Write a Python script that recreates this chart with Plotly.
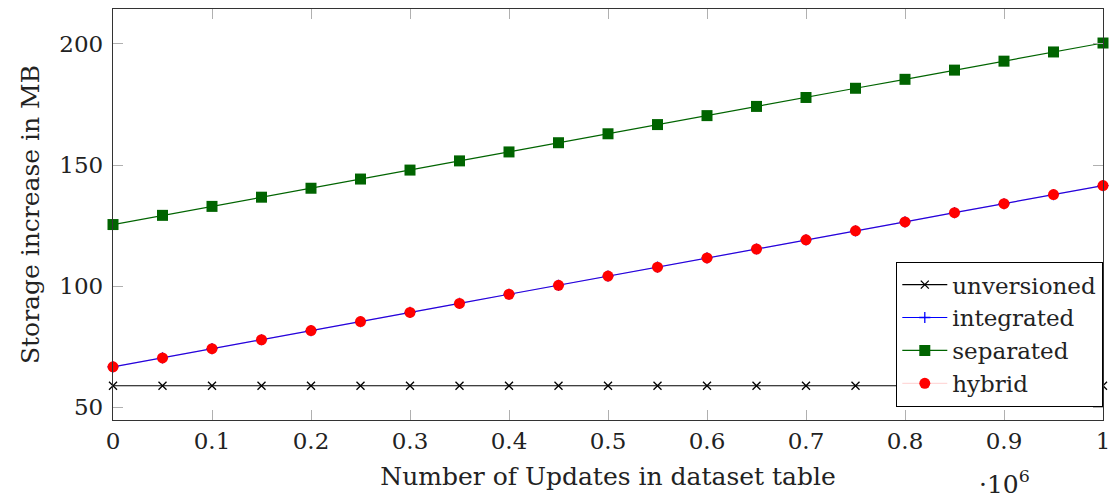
import plotly.graph_objects as go

updates = [0, 0.05, 0.1, 0.15, 0.2, 0.25, 0.3, 0.35, 0.4, 0.45, 0.5,
           0.55, 0.6, 0.65, 0.7, 0.75, 0.8, 0.85, 0.9, 0.95, 1.0]
unversioned = [58.8] * 21
integrated = [66.6, 70.3, 74.1, 77.8, 81.6, 85.3, 89.1, 92.8, 96.6, 100.3, 104.1,
              107.8, 111.6, 115.3, 119.1, 122.8, 126.5, 130.3, 134.0, 137.8, 141.5]
hybrid = [66.6, 70.3, 74.1, 77.8, 81.6, 85.3, 89.1, 92.8, 96.6, 100.3, 104.1,
          107.8, 111.6, 115.3, 119.1, 122.8, 126.5, 130.3, 134.0, 137.8, 141.5]
separated = [125.4, 129.2, 132.9, 136.7, 140.4, 144.2, 147.9, 151.7, 155.4, 159.2, 162.9,
             166.7, 170.4, 174.2, 177.9, 181.7, 185.4, 189.2, 192.9, 196.7, 200.4]

x_ticks = [0, 0.1, 0.2, 0.3, 0.4, 0.5, 0.6, 0.7, 0.8, 0.9, 1]
x_tick_labels = ["0", "0.1", "0.2", "0.3", "0.4", "0.5", "0.6", "0.7", "0.8", "0.9", "1"]
y_ticks = [50, 100, 150, 200]

FONT = "DejaVu Serif"
FS = 23
FT = 25
TXT = "#222222"

fig = go.Figure()
fig.add_trace(go.Scatter(x=updates, y=unversioned, name="unversioned", mode="lines+markers",
                         cliponaxis=False,
                         line=dict(color="black", width=1.2),
                         marker=dict(symbol="x-thin", size=8, color="black",
                                     line=dict(color="black", width=1.3))))
fig.add_trace(go.Scatter(x=updates, y=integrated, name="integrated", mode="lines+markers",
                         cliponaxis=False,
                         line=dict(color="#0000ff", width=1.2),
                         marker=dict(symbol="cross-thin", size=8, color="#0000ff",
                                     line=dict(color="#0000ff", width=1.3))))
fig.add_trace(go.Scatter(x=updates, y=separated, name="separated", mode="lines+markers",
                         cliponaxis=False,
                         line=dict(color="#006400", width=1.2),
                         marker=dict(symbol="square", size=11, color="#006400")))
fig.add_trace(go.Scatter(x=updates, y=hybrid, name="hybrid", mode="lines+markers",
                         cliponaxis=False,
                         line=dict(color="rgba(255,0,0,0.15)", width=1.2),
                         marker=dict(symbol="circle", size=11, color="#ff0000")))

axis_common = dict(showgrid=False, zeroline=False, showline=True, linecolor="#333333",
                   linewidth=1.3, mirror="allticks", ticks="inside", ticklen=10,
                   tickcolor="#b0b0b0", tickwidth=1.3, automargin=False,
                   ticklabeloverflow="allow",
                   tickfont=dict(family=FONT, size=FS, color=TXT))

fig.update_xaxes(range=[0, 1], tickvals=x_ticks, ticktext=x_tick_labels,
                 title=dict(text="Number of Updates in dataset table",
                            font=dict(family=FONT, size=FT, color=TXT), standoff=14),
                 **axis_common)
fig.update_yaxes(range=[44.65, 214.45], tickvals=y_ticks, ticklabelstandoff=4,
                 title=dict(text="Storage increase in MB",
                            font=dict(family=FONT, size=FT, color=TXT), standoff=12),
                 **axis_common)

fig.add_annotation(text="·10<sup>6</sup>", xref="paper", yref="paper", x=0.90, y=-0.197,
                   xanchor="center", yanchor="bottom", showarrow=False,
                   font=dict(family=FONT, size=FT, color=TXT))

fig.update_layout(
    width=1109, height=499,
    margin=dict(l=113, r=6, t=9, b=79),
    plot_bgcolor="white", paper_bgcolor="white",
    showlegend=True,
    legend=dict(x=1, y=0.032, xanchor="right", yanchor="bottom",
                bordercolor="black", borderwidth=1.3, bgcolor="white",
                font=dict(family=FONT, size=FS, color=TXT),
                itemwidth=45, tracegroupgap=0),
)

fig.write_html("out.html", config={"displayModeBar": False},
               post_script="document.body.style.margin='0';document.body.style.overflow='hidden';")
